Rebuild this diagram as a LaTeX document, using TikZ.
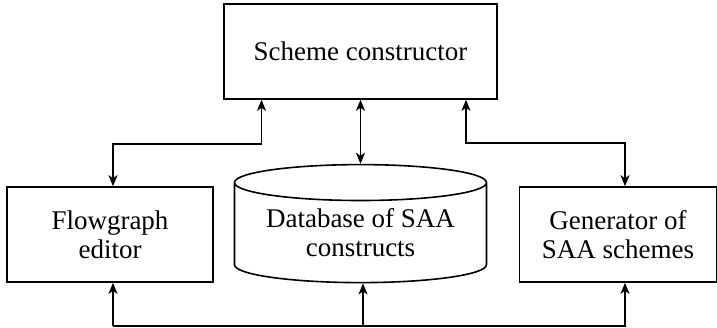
\documentclass[tikz,border=0pt]{standalone}
\usepackage{fontspec}
\setmainfont{Liberation Serif}
\usetikzlibrary{arrows.meta, positioning, shapes.geometric}

\begin{document}
\begin{tikzpicture}[
        x=1pt, y=-1pt,
        >={Stealth[length=11pt, width=9pt, inset=3pt]},
        box/.style={rectangle, draw, line width=1.6pt, minimum height=95pt, inner sep=0pt, align=center, font=\fontsize{27}{29}\selectfont},
        store/.style={cylinder, draw, line width=1.6pt, shape border rotate=90, aspect=0.19, minimum width=252pt, minimum height=118pt, inner sep=0pt, align=center, font=\fontsize{27}{29}\selectfont},
        link/.style={line width=1.6pt}
    ]
    \useasboundingbox (0,0) rectangle (717,327);

    \node[box, minimum width=273pt] (scheme) at (360.5,51.5) {Scheme constructor};
    \node[store, below=64pt of scheme] (db) {Database of SAA \\ constructs};
    \node[box, minimum width=206pt] (flow) at (110,234.5) {Flowgraph \\ editor};
    \node[box, minimum width=197pt] (gen) at (618,234.5) {Generator of \\ SAA schemes};

    \draw[link, <->] ([xshift=-99pt]scheme.south) -- ++(0,44) -| ([xshift=3pt]flow.north);
    \draw[link, <->] (scheme.south) -- (db.north);
    \draw[link, <->] ([xshift=105.5pt]scheme.south) -- ++(0,43) -| ([xshift=7pt]gen.north);

    \draw[link, ->] ([xshift=3pt]flow.south) ++(0,43) coordinate (bus) -- ([xshift=3pt]flow.south);
    \draw[link, ->] (bus) -| ([xshift=2.5pt]db.south);
    \draw[link, ->] (bus) -| ([xshift=7pt]gen.south);
\end{tikzpicture}
\end{document}
